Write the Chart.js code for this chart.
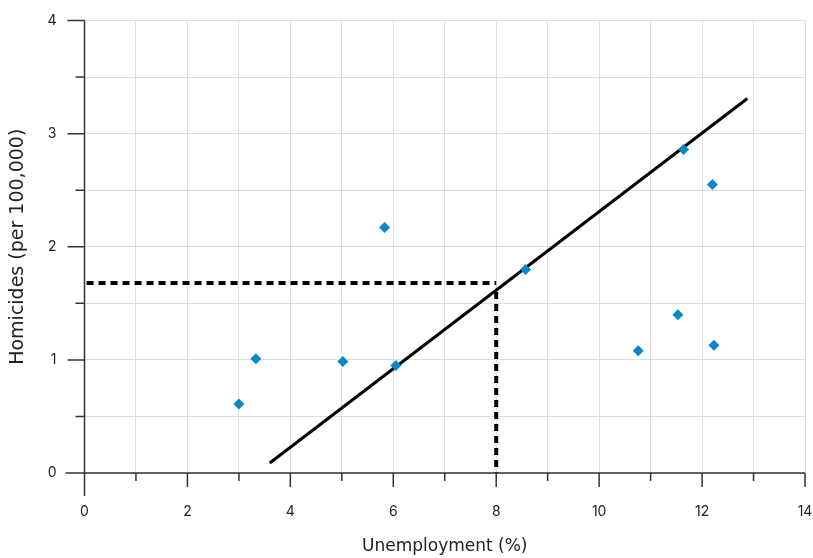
<!DOCTYPE html>
<html>
<head>
<meta charset="utf-8">
<script src="https://cdn.jsdelivr.net/npm/chart.js@4.4.0/dist/chart.umd.min.js"></script>
<style>
  html, body { margin: 0; padding: 0; background: #fff; }
  #wrap { width: 813px; height: 558px; position: relative; }
</style>
</head>
<body>
<div id="wrap"><canvas id="chart"></canvas></div>
<script>
// observed points
const unemployment = [3.0, 3.33, 5.02, 5.83, 6.05, 8.57, 11.64, 12.2, 11.53, 10.76, 12.23];
const homicides = [0.61, 1.01, 0.985, 2.17, 0.95, 1.80, 2.86, 2.55, 1.40, 1.08, 1.13];

// regression line end points
const fitX = [3.6, 12.88];
const fitY = [0.088, 3.31];

// dashed reading guides
const guideHX = [0.04, 8.0];
const guideHY = [1.68, 1.68];
const guideVX = [8.0, 8.0];
const guideVY = [1.6, 0];

const toPoints = (xs, ys) => xs.map((x, i) => ({ x: x, y: ys[i] }));

// tick marks and axis lines drawn by hand (major / minor lengths differ)
const axisPlugin = {
  id: 'axisPlugin',
  afterDraw(chart) {
    const ctx = chart.ctx;
    const xs = chart.scales.x, ys = chart.scales.y;
    const area = chart.chartArea;
    ctx.save();
    ctx.strokeStyle = '#333';
    ctx.lineWidth = 1.5;
    ctx.beginPath();
    ctx.moveTo(area.left, area.top);
    ctx.lineTo(area.left, area.bottom + 23);
    ctx.moveTo(area.left - 19, area.bottom);
    ctx.lineTo(area.right, area.bottom);
    for (let v = 0; v <= 14; v++) {
      const px = xs.getPixelForValue(v);
      const len = v % 2 === 0 ? 14 : 8;
      ctx.moveTo(px, area.bottom);
      ctx.lineTo(px, area.bottom + len);
    }
    for (let v = 0; v <= 4; v += 0.5) {
      const py = ys.getPixelForValue(v);
      const len = Number.isInteger(v) ? 17 : 9;
      ctx.moveTo(area.left, py);
      ctx.lineTo(area.left - len, py);
    }
    ctx.stroke();
    ctx.restore();
  }
};

const titleFont = { family: '"DejaVu Sans", sans-serif', size: 17 };
const tickFont = { family: 'Inter, "DejaVu Sans", sans-serif', size: 14 };

const ctx = document.getElementById('chart').getContext('2d');
new Chart(ctx, {
  type: 'scatter',
  data: {
    datasets: [
      {
        label: 'Cities',
        data: toPoints(unemployment, homicides),
        pointStyle: 'rectRot',
        pointRadius: 5.5,
        backgroundColor: '#0a87c9',
        borderColor: '#0a87c9',
        borderWidth: 0
      },
      {
        label: 'Fit',
        data: toPoints(fitX, fitY),
        showLine: true,
        borderColor: '#000',
        borderWidth: 3,
        pointRadius: 0
      },
      {
        label: 'Guide H',
        data: toPoints(guideHX, guideHY),
        showLine: true,
        borderColor: '#000',
        borderWidth: 4,
        borderDash: [7, 5],
        borderCapStyle: 'butt',
        pointRadius: 0
      },
      {
        label: 'Guide V',
        data: toPoints(guideVX, guideVY),
        showLine: true,
        borderColor: '#000',
        borderWidth: 4,
        borderDash: [7, 5],
        borderCapStyle: 'butt',
        pointRadius: 0
      }
    ]
  },
  options: {
    responsive: true,
    maintainAspectRatio: false,
    animation: false,
    layout: { padding: { top: 20.5, right: 8, left: 0, bottom: 0 } },
    plugins: {
      legend: { display: false },
      tooltip: { enabled: false }
    },
    scales: {
      x: {
        type: 'linear',
        min: 0,
        max: 14,
        afterFit(scale) {
          scale.height = 85;
          scale.paddingLeft = 0;
          scale.paddingRight = 0;
        },
        border: { display: false },
        grid: { color: '#dedede', lineWidth: 1, drawTicks: false },
        ticks: {
          stepSize: 1,
          padding: 30,
          color: '#222',
          font: tickFont,
          callback: v => (v % 2 === 0 ? v : '')
        },
        title: {
          display: true,
          text: 'Unemployment (%)',
          color: '#222',
          font: titleFont,
          padding: { top: 0, bottom: 1 }
        }
      },
      y: {
        type: 'linear',
        min: 0,
        max: 4,
        afterFit(scale) {
          scale.width = 84.5;
          scale.paddingTop = 0;
          scale.paddingBottom = 0;
        },
        border: { display: false },
        grid: { color: '#dedede', lineWidth: 1, drawTicks: false },
        ticks: {
          stepSize: 0.5,
          padding: 28,
          color: '#222',
          font: tickFont,
          callback: v => (Number.isInteger(v) ? v : '')
        },
        title: {
          display: true,
          text: 'Homicides (per 100,000)',
          color: '#222',
          font: { family: '"DejaVu Sans", sans-serif', size: 19 },
          padding: { top: 6.5, bottom: 0 }
        }
      }
    }
  },
  plugins: [axisPlugin]
});
</script>
</body>
</html>
